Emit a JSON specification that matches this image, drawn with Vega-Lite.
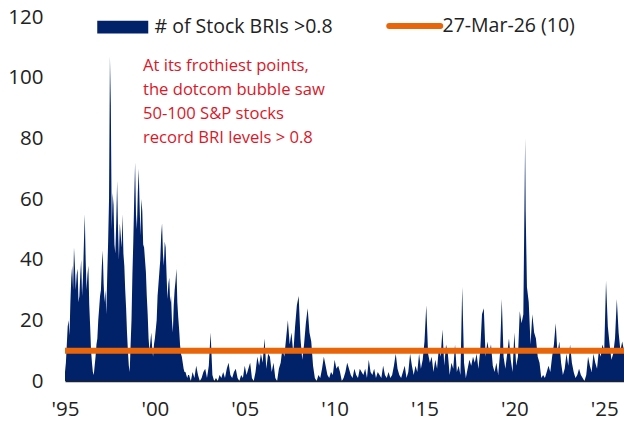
{
  "$schema": "https://vega.github.io/schema/vega-lite/v6.json",
  "width": 559,
  "height": 364,
  "autosize": {"type": "none"},
  "padding": {"left": 65, "top": 17, "right": 0, "bottom": 45},
  "background": "white",
  "config": {"view": {"stroke": null}},
  "datasets": {
    "bri": [
      {"t":1995.0,"v":3},{"t":1995.05,"v":6},{"t":1995.1,"v":12},{"t":1995.15,"v":18},{"t":1995.2,"v":20},{"t":1995.25,"v":15},{"t":1995.3,"v":26},{"t":1995.35,"v":34},{"t":1995.4,"v":38},{"t":1995.45,"v":30},{"t":1995.5,"v":44},{"t":1995.55,"v":38},{"t":1995.6,"v":30},{"t":1995.65,"v":35},{"t":1995.7,"v":37},{"t":1995.75,"v":26},{"t":1995.8,"v":28},{"t":1995.85,"v":35},{"t":1995.9,"v":40},{"t":1995.95,"v":28},
      {"t":1996.0,"v":34},{"t":1996.05,"v":45},{"t":1996.1,"v":55},{"t":1996.15,"v":40},{"t":1996.2,"v":30},{"t":1996.25,"v":35},{"t":1996.3,"v":38},{"t":1996.35,"v":25},{"t":1996.4,"v":18},{"t":1996.45,"v":10},{"t":1996.5,"v":6},{"t":1996.55,"v":3},{"t":1996.6,"v":2},{"t":1996.65,"v":5},{"t":1996.7,"v":8},{"t":1996.75,"v":12},{"t":1996.8,"v":14},{"t":1996.85,"v":20},{"t":1996.9,"v":24},{"t":1996.95,"v":28},
      {"t":1997.0,"v":30},{"t":1997.05,"v":38},{"t":1997.1,"v":43},{"t":1997.15,"v":32},{"t":1997.2,"v":26},{"t":1997.25,"v":30},{"t":1997.3,"v":22},{"t":1997.35,"v":35},{"t":1997.4,"v":46},{"t":1997.45,"v":60},{"t":1997.5,"v":107},{"t":1997.55,"v":91},{"t":1997.6,"v":50},{"t":1997.65,"v":62},{"t":1997.7,"v":58},{"t":1997.75,"v":45},{"t":1997.8,"v":42},{"t":1997.85,"v":52},{"t":1997.9,"v":66},{"t":1997.95,"v":50},
      {"t":1998.0,"v":40},{"t":1998.05,"v":52},{"t":1998.1,"v":48},{"t":1998.15,"v":44},{"t":1998.2,"v":55},{"t":1998.25,"v":42},{"t":1998.3,"v":38},{"t":1998.35,"v":30},{"t":1998.4,"v":24},{"t":1998.45,"v":16},{"t":1998.5,"v":10},{"t":1998.55,"v":5},{"t":1998.6,"v":3},{"t":1998.65,"v":12},{"t":1998.7,"v":20},{"t":1998.75,"v":35},{"t":1998.8,"v":46},{"t":1998.85,"v":60},{"t":1998.9,"v":72},{"t":1998.95,"v":55},
      {"t":1999.0,"v":50},{"t":1999.05,"v":62},{"t":1999.1,"v":70},{"t":1999.15,"v":58},{"t":1999.2,"v":48},{"t":1999.25,"v":60},{"t":1999.3,"v":56},{"t":1999.35,"v":45},{"t":1999.4,"v":44},{"t":1999.45,"v":40},{"t":1999.5,"v":36},{"t":1999.55,"v":28},{"t":1999.6,"v":22},{"t":1999.65,"v":14},{"t":1999.7,"v":10},{"t":1999.75,"v":13},{"t":1999.8,"v":16},{"t":1999.85,"v":11},{"t":1999.9,"v":8},{"t":1999.95,"v":12},
      {"t":2000.0,"v":14},{"t":2000.05,"v":17},{"t":2000.1,"v":20},{"t":2000.15,"v":28},{"t":2000.2,"v":32},{"t":2000.25,"v":36},{"t":2000.3,"v":40},{"t":2000.35,"v":48},{"t":2000.4,"v":52},{"t":2000.45,"v":42},{"t":2000.5,"v":38},{"t":2000.55,"v":46},{"t":2000.6,"v":44},{"t":2000.65,"v":35},{"t":2000.7,"v":27},{"t":2000.75,"v":32},{"t":2000.8,"v":34},{"t":2000.85,"v":26},{"t":2000.9,"v":28},{"t":2000.95,"v":20},
      {"t":2001.0,"v":16},{"t":2001.05,"v":25},{"t":2001.1,"v":30},{"t":2001.15,"v":33},{"t":2001.2,"v":37},{"t":2001.25,"v":26},{"t":2001.3,"v":21},{"t":2001.35,"v":17},{"t":2001.4,"v":12},{"t":2001.45,"v":9},{"t":2001.5,"v":8},{"t":2001.55,"v":6},{"t":2001.6,"v":4},{"t":2001.65,"v":3},{"t":2001.7,"v":3},{"t":2001.75,"v":2},{"t":2001.8,"v":1},{"t":2001.85,"v":2},{"t":2001.9,"v":2},{"t":2001.95,"v":1},
      {"t":2002.0,"v":0},{"t":2002.1,"v":3},{"t":2002.2,"v":1},{"t":2002.3,"v":5},{"t":2002.4,"v":2},{"t":2002.5,"v":0},{"t":2002.6,"v":1},{"t":2002.7,"v":3},{"t":2002.8,"v":4},{"t":2002.9,"v":1},
      {"t":2003.0,"v":5},{"t":2003.1,"v":16},{"t":2003.2,"v":2},{"t":2003.3,"v":0},{"t":2003.4,"v":1},{"t":2003.5,"v":0},{"t":2003.6,"v":2},{"t":2003.7,"v":1},{"t":2003.8,"v":3},{"t":2003.9,"v":1},
      {"t":2004.0,"v":4},{"t":2004.1,"v":6},{"t":2004.2,"v":2},{"t":2004.3,"v":1},{"t":2004.4,"v":3},{"t":2004.5,"v":4},{"t":2004.6,"v":1},{"t":2004.7,"v":0},{"t":2004.8,"v":2},{"t":2004.9,"v":1},
      {"t":2005.0,"v":5},{"t":2005.1,"v":2},{"t":2005.2,"v":4},{"t":2005.3,"v":6},{"t":2005.4,"v":1},{"t":2005.5,"v":0},{"t":2005.6,"v":3},{"t":2005.7,"v":8},{"t":2005.8,"v":5},{"t":2005.9,"v":9},
      {"t":2006.0,"v":6},{"t":2006.1,"v":14},{"t":2006.2,"v":4},{"t":2006.3,"v":9},{"t":2006.4,"v":8},{"t":2006.5,"v":3},{"t":2006.6,"v":6},{"t":2006.7,"v":1},{"t":2006.8,"v":0},{"t":2006.9,"v":4},
      {"t":2007.0,"v":6},{"t":2007.1,"v":11},{"t":2007.2,"v":8},{"t":2007.3,"v":14},{"t":2007.4,"v":20},{"t":2007.5,"v":12},{"t":2007.6,"v":16},{"t":2007.7,"v":9},{"t":2007.8,"v":18},{"t":2007.9,"v":25},
      {"t":2008.0,"v":28},{"t":2008.1,"v":14},{"t":2008.2,"v":7},{"t":2008.3,"v":12},{"t":2008.4,"v":19},{"t":2008.5,"v":24},{"t":2008.6,"v":16},{"t":2008.7,"v":13},{"t":2008.8,"v":5},{"t":2008.9,"v":1},
      {"t":2009.0,"v":0},{"t":2009.1,"v":2},{"t":2009.2,"v":1},{"t":2009.3,"v":4},{"t":2009.4,"v":8},{"t":2009.5,"v":5},{"t":2009.6,"v":2},{"t":2009.7,"v":1},{"t":2009.8,"v":3},{"t":2009.9,"v":2},
      {"t":2010.0,"v":7},{"t":2010.1,"v":4},{"t":2010.2,"v":5},{"t":2010.3,"v":3},{"t":2010.4,"v":0},{"t":2010.5,"v":1},{"t":2010.6,"v":3},{"t":2010.7,"v":6},{"t":2010.8,"v":4},{"t":2010.9,"v":2},
      {"t":2011.0,"v":1},{"t":2011.1,"v":4},{"t":2011.2,"v":2},{"t":2011.3,"v":1},{"t":2011.4,"v":4},{"t":2011.5,"v":3},{"t":2011.6,"v":2},{"t":2011.7,"v":4},{"t":2011.8,"v":1},{"t":2011.9,"v":7},
      {"t":2012.0,"v":3},{"t":2012.1,"v":2},{"t":2012.2,"v":4},{"t":2012.3,"v":1},{"t":2012.4,"v":3},{"t":2012.5,"v":2},{"t":2012.6,"v":1},{"t":2012.7,"v":5},{"t":2012.8,"v":2},{"t":2012.9,"v":1},
      {"t":2013.0,"v":3},{"t":2013.1,"v":1},{"t":2013.2,"v":2},{"t":2013.3,"v":5},{"t":2013.4,"v":9},{"t":2013.5,"v":4},{"t":2013.6,"v":2},{"t":2013.7,"v":1},{"t":2013.8,"v":3},{"t":2013.9,"v":5},
      {"t":2014.0,"v":1},{"t":2014.1,"v":3},{"t":2014.2,"v":9},{"t":2014.3,"v":5},{"t":2014.4,"v":2},{"t":2014.5,"v":5},{"t":2014.6,"v":3},{"t":2014.7,"v":9},{"t":2014.8,"v":4},{"t":2014.9,"v":7},
      {"t":2015.0,"v":13},{"t":2015.1,"v":25},{"t":2015.2,"v":9},{"t":2015.3,"v":6},{"t":2015.4,"v":8},{"t":2015.5,"v":3},{"t":2015.6,"v":7},{"t":2015.7,"v":4},{"t":2015.8,"v":11},{"t":2015.9,"v":8},
      {"t":2016.0,"v":17},{"t":2016.1,"v":5},{"t":2016.2,"v":12},{"t":2016.3,"v":9},{"t":2016.4,"v":2},{"t":2016.5,"v":6},{"t":2016.6,"v":4},{"t":2016.7,"v":12},{"t":2016.8,"v":3},{"t":2016.9,"v":5},
      {"t":2017.0,"v":2},{"t":2017.1,"v":31},{"t":2017.2,"v":6},{"t":2017.3,"v":1},{"t":2017.4,"v":4},{"t":2017.5,"v":7},{"t":2017.6,"v":5},{"t":2017.7,"v":8},{"t":2017.8,"v":6},{"t":2017.9,"v":9},
      {"t":2018.0,"v":4},{"t":2018.1,"v":10},{"t":2018.2,"v":22},{"t":2018.3,"v":24},{"t":2018.4,"v":8},{"t":2018.5,"v":13},{"t":2018.6,"v":9},{"t":2018.7,"v":12},{"t":2018.8,"v":5},{"t":2018.9,"v":3},
      {"t":2019.0,"v":6},{"t":2019.1,"v":2},{"t":2019.2,"v":9},{"t":2019.3,"v":27},{"t":2019.4,"v":8},{"t":2019.5,"v":4},{"t":2019.6,"v":9},{"t":2019.7,"v":14},{"t":2019.8,"v":7},{"t":2019.9,"v":3},
      {"t":2020.0,"v":16},{"t":2020.1,"v":5},{"t":2020.2,"v":8},{"t":2020.3,"v":23},{"t":2020.4,"v":19},{"t":2020.5,"v":22},{"t":2020.6,"v":80},{"t":2020.63,"v":56},{"t":2020.7,"v":31},{"t":2020.8,"v":26},{"t":2020.9,"v":12},
      {"t":2021.0,"v":22},{"t":2021.1,"v":16},{"t":2021.2,"v":14},{"t":2021.3,"v":8},{"t":2021.4,"v":6},{"t":2021.5,"v":1},{"t":2021.6,"v":2},{"t":2021.7,"v":1},{"t":2021.8,"v":3},{"t":2021.9,"v":5},
      {"t":2022.0,"v":3},{"t":2022.1,"v":8},{"t":2022.2,"v":12},{"t":2022.3,"v":19},{"t":2022.4,"v":9},{"t":2022.5,"v":13},{"t":2022.6,"v":6},{"t":2022.7,"v":2},{"t":2022.8,"v":4},{"t":2022.9,"v":9},
      {"t":2023.0,"v":5},{"t":2023.1,"v":12},{"t":2023.2,"v":6},{"t":2023.3,"v":3},{"t":2023.4,"v":1},{"t":2023.5,"v":2},{"t":2023.6,"v":4},{"t":2023.7,"v":2},{"t":2023.8,"v":1},{"t":2023.9,"v":0},
      {"t":2024.0,"v":2},{"t":2024.1,"v":8},{"t":2024.2,"v":5},{"t":2024.3,"v":3},{"t":2024.4,"v":9},{"t":2024.5,"v":6},{"t":2024.6,"v":4},{"t":2024.7,"v":10},{"t":2024.8,"v":8},{"t":2024.9,"v":12},
      {"t":2025.0,"v":10},{"t":2025.1,"v":33},{"t":2025.2,"v":18},{"t":2025.3,"v":12},{"t":2025.4,"v":7},{"t":2025.5,"v":9},{"t":2025.6,"v":14},{"t":2025.7,"v":27},{"t":2025.8,"v":16},{"t":2025.9,"v":10},
      {"t":2026.0,"v":13},{"t":2026.1,"v":10}
    ]
  },
  "layer": [
    {
      "data": {"name": "bri"},
      "transform": [{"calculate": "'# of Stock BRIs >0.8'", "as": "series"}],
      "mark": {"type": "area", "interpolate": "linear", "clip": true},
      "encoding": {
        "x": {
          "field": "t", "type": "quantitative",
          "scale": {"domain": [1995, 2026.1], "nice": false, "zero": false},
          "axis": {
            "title": null, "values": [1995, 2000, 2005, 2010, 2015, 2020, 2025],
            "labelExpr": "\"'\" + format(datum.value % 100, '02d')",
            "grid": false, "ticks": false, "tickSize": 0,
            "domain": true, "domainColor": "#222", "domainWidth": 1.5,
            "labelFont": "Open Sans", "labelFontSize": 20.5, "labelColor": "#222", "labelPadding": 18,
            "labelFlush": false, "labelOverlap": false
          }
        },
        "y": {
          "field": "v", "type": "quantitative",
          "scale": {"domain": [0, 120], "nice": false},
          "axis": {
            "title": null, "values": [0, 20, 40, 60, 80, 100, 120],
            "grid": false, "ticks": false, "tickSize": 0, "domain": false,
            "labelFont": "Open Sans", "labelFontSize": 20.5, "labelColor": "#222", "labelPadding": 22
          }
        },
        "color": {
          "field": "series", "type": "nominal",
          "scale": {"domain": ["# of Stock BRIs >0.8", "27-Mar-26 (10)"], "range": ["#012169", "#e8650a"]},
          "legend": {
            "title": null, "orient": "none", "legendX": 48, "legendY": -1,
            "direction": "horizontal", "padding": 0,
            "labelFont": "Open Sans", "labelFontSize": 19.5, "labelColor": "#222", "labelLimit": 400,
            "labelOffset": 22, "columnPadding": 44, "symbolSize": 2601,
            "encode": {
              "labels": {
                "update": {
                  "dx": {"signal": "datum.value == '27-Mar-26 (10)' ? -4 : 0"}
                }
              },
              "symbols": {
                "update": {
                  "size": {"value": 2601},
                  "shape": {"signal": "datum.value == '27-Mar-26 (10)' ? 'M-1,0H1' : 'M-1,-0.25H1V0.25H-1Z'"},
                  "strokeWidth": {"signal": "datum.value == '27-Mar-26 (10)' ? 6 : 0"},
                  "strokeCap": {"value": "round"},
                  "fill": {"signal": "datum.value == '27-Mar-26 (10)' ? 'transparent' : '#012169'"},
                  "stroke": {"signal": "datum.value == '27-Mar-26 (10)' ? '#e8650a' : 'transparent'"},
                  "opacity": {"value": 1}
                }
              }
            }
          }
        }
      }
    },
    {
      "data": {"values": [{"v": 10, "series": "27-Mar-26 (10)"}]},
      "mark": {"type": "rule", "strokeWidth": 6},
      "encoding": {
        "y": {"field": "v", "type": "quantitative"},
        "color": {"field": "series", "type": "nominal"}
      }
    },
    {
      "data": {"values": [{"t": 1999.34, "v": 102.2, "label": "At its frothiest points,\nthe dotcom bubble saw\n50-100 S&P stocks\nrecord BRI levels > 0.8"}]},
      "mark": {
        "type": "text", "align": "left", "baseline": "alphabetic", "lineBreak": "\n",
        "lineHeight": 24, "color": "#d7192a",
        "font": "Open Sans", "fontSize": 16.6
      },
      "encoding": {
        "x": {"field": "t", "type": "quantitative"},
        "y": {"field": "v", "type": "quantitative"},
        "text": {"field": "label"}
      }
    }
  ]
}
